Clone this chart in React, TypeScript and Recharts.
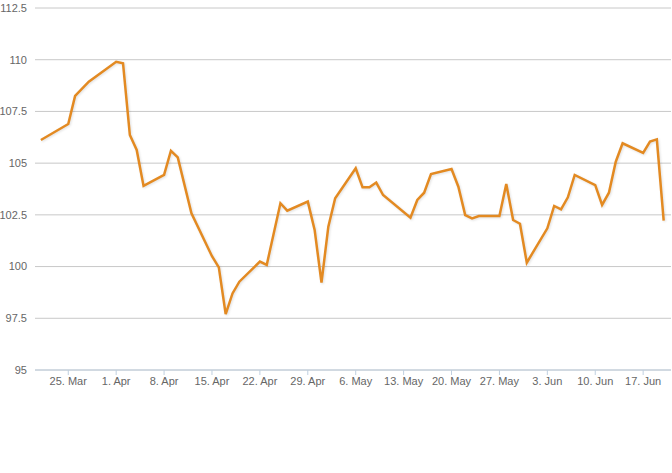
import React from 'react';
import { LineChart, Line, XAxis, YAxis, CartesianGrid } from 'recharts';

const dates: string[] = [
  '2013-03-21', '2013-03-25', '2013-03-26', '2013-03-28', '2013-04-01', '2013-04-02',
  '2013-04-03', '2013-04-04', '2013-04-05', '2013-04-08', '2013-04-09', '2013-04-10',
  '2013-04-12', '2013-04-15', '2013-04-16', '2013-04-17', '2013-04-18', '2013-04-19',
  '2013-04-22', '2013-04-23', '2013-04-25', '2013-04-26', '2013-04-29', '2013-04-30',
  '2013-05-01', '2013-05-02', '2013-05-03', '2013-05-06', '2013-05-07', '2013-05-08',
  '2013-05-09', '2013-05-10', '2013-05-14', '2013-05-15', '2013-05-16', '2013-05-17',
  '2013-05-20', '2013-05-21', '2013-05-22', '2013-05-23', '2013-05-24', '2013-05-27',
  '2013-05-28', '2013-05-29', '2013-05-30', '2013-05-31', '2013-06-03', '2013-06-04',
  '2013-06-05', '2013-06-06', '2013-06-07', '2013-06-10', '2013-06-11', '2013-06-12',
  '2013-06-13', '2013-06-14', '2013-06-17', '2013-06-18', '2013-06-19', '2013-06-20',
];

const values: number[] = [
  106.12, 106.89, 108.25, 108.94, 109.9, 109.83,
  106.36, 105.64, 103.9, 104.43, 105.6, 105.28,
  102.57, 100.5, 99.96, 97.7, 98.7, 99.27,
  100.24, 100.08, 103.06, 102.7, 103.14, 101.77,
  99.22, 101.93, 103.3, 104.75, 103.83, 103.83,
  104.06, 103.46, 102.36, 103.22, 103.57, 104.47,
  104.72, 103.86, 102.49, 102.33, 102.44, 102.44,
  103.99, 102.25, 102.07, 100.19, 101.85, 102.93,
  102.77, 103.35, 104.43, 103.94, 102.98, 103.57,
  105.07, 105.96, 105.5, 106.04, 106.15, 102.22,
];

const tickDates: string[] = [
  '2013-03-25', '2013-04-01', '2013-04-08', '2013-04-15', '2013-04-22', '2013-04-29',
  '2013-05-06', '2013-05-13', '2013-05-20', '2013-05-27', '2013-06-03', '2013-06-10',
  '2013-06-17',
];
const tickLabels: string[] = [
  '25. Mar', '1. Apr', '8. Apr', '15. Apr', '22. Apr', '29. Apr',
  '6. May', '13. May', '20. May', '27. May', '3. Jun', '10. Jun', '17. Jun',
];

const yTicks: number[] = [95, 97.5, 100, 102.5, 105, 107.5, 110, 112.5];

const DAY = 86400000;
const base = Date.parse('2013-03-25T00:00:00Z');
const toDay = (s: string) => (Date.parse(s + 'T00:00:00Z') - base) / DAY;

const data = dates.map((d, i) => ({ day: toDay(d), value: values[i] }));
const xTicks = tickDates.map(toDay);
const labelFor = (v: number) => {
  const idx = xTicks.indexOf(v);
  return idx >= 0 ? tickLabels[idx] : '';
};

const FONT = '"Liberation Sans", Arial, sans-serif';

export default function App() {
  return (
    <div style={{ position: 'absolute', left: 0, top: 0, fontFamily: FONT }}>
      <LineChart
        width={672}
        height={473}
        data={data}
        margin={{ top: 8, right: 1, left: 0, bottom: 73 }}
      >
        <CartesianGrid vertical={false} stroke="#C8C8C8" strokeWidth={1} />
        <XAxis
          dataKey="day"
          type="number"
          domain={[-4.86, 88.07]}
          ticks={xTicks}
          tickFormatter={labelFor}
          interval={0}
          height={30}
          allowDataOverflow
          axisLine={{ stroke: '#C0D0E0' }}
          tickLine={{ stroke: '#C0D0E0' }}
          tickSize={5}
          tickMargin={2}
          tick={{ fill: '#666666', fontSize: 11, fontFamily: FONT }}
        />
        <YAxis
          type="number"
          domain={[95, 112.5]}
          ticks={yTicks}
          interval={0}
          width={35}
          allowDataOverflow
          axisLine={false}
          tickLine={false}
          tickSize={6}
          tickMargin={2}
          tick={{ fill: '#666666', fontSize: 11, fontFamily: FONT }}
        />
        <Line
          type="linear"
          dataKey="value"
          stroke="#E38A22"
          strokeWidth={2.5}
          dot={false}
          activeDot={false}
          isAnimationActive={false}
          style={{ filter: 'drop-shadow(1px 1px 1px rgba(0,0,0,0.12))' }}
        />
      </LineChart>
    </div>
  );
}
